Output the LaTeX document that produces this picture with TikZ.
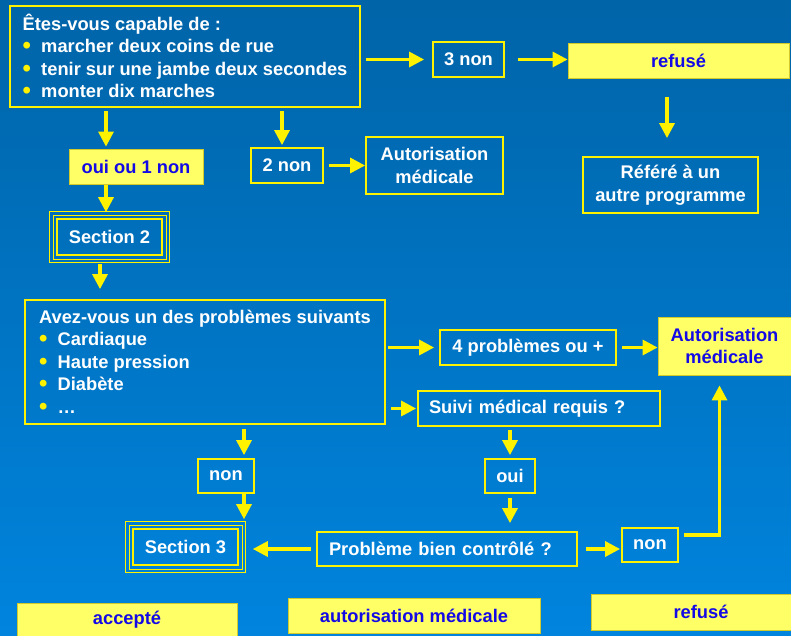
\documentclass[tikz,border=0pt]{standalone}
\usepackage{fontspec}
\setmainfont{Liberation Sans}
\usetikzlibrary{arrows.meta}
\definecolor{bg_top}{RGB}{0,100,168}
\definecolor{bg_mid}{RGB}{0,110,185}
\definecolor{bg_bottom}{RGB}{0,132,222}
\definecolor{box_yellow}{RGB}{255,255,102}
\definecolor{text_blue}{RGB}{20,10,230}
\newcommand{\yb}{\makebox[18.6pt][l]{\raisebox{-1pt}{\scalebox{1.3}{\textcolor{yellow}{\textbullet}}}}}

\begin{document}
\begin{tikzpicture}[
    x=1pt, y=-1pt,
    every node/.style={font=\bfseries\fontsize{18.3}{22.5}\selectfont, inner sep=0pt},
    box/.style={draw=yellow, line width=1.8pt, text=white, align=center},
    hibox/.style={draw=yellow!80!black, line width=0.8pt, fill=box_yellow,
                  text=text_blue, align=center},
    secbox/.style={draw=yellow, line width=1.6pt, text=white,
                   minimum width=105pt, minimum height=36pt},
    secframe/.style={draw=yellow, line width=1pt},
    arr/.style={-{Triangle[width=15pt,length=15pt]}, line width=3.2pt, yellow},
]
\useasboundingbox (0,0) rectangle (791,635);
\shade[top color=bg_top, middle color=bg_mid, bottom color=bg_bottom] (0,0) rectangle (791,635);

% section 1
\node[box, minimum width=350pt, minimum height=101pt, align=left] (q1) at (185,56.5)
    {Êtes-vous capable de :\\ \yb marcher deux coins de rue\\
     \yb tenir sur une jambe deux secondes\\ \yb monter dix marches};
\node[box, minimum width=71pt, minimum height=35pt]   (non3)   at (468.5,59.5) {3 non};
\node[hibox, minimum width=221pt, minimum height=35pt] (refuse) at (678.5,60.5) {refusé};
\node[box, minimum width=175pt, minimum height=56pt]  (refere) at (670.5,185)  {Référé à un\\autre programme};
\node[box, minimum width=137pt, minimum height=57pt]  (auto1)  at (434.5,165.5) {Autorisation\\médicale};
\node[box, minimum width=72pt, minimum height=35pt]   (non2)   at (287,165.5)  {2 non};
\node[hibox, minimum width=134pt, minimum height=35pt] (ouinon) at (136,166.5) {oui ou 1 non};
\node[secbox] (sec2) at (109.5,237) {Section 2};

% section 2
\node[box, minimum width=360pt, minimum height=124pt, align=left] (q2) at (205,362)
    {Avez-vous un des problèmes suivants\\ \yb Cardiaque\\ \yb Haute pression\\
     \yb Diabète\\ \yb …};
\node[box, minimum width=176pt, minimum height=35pt]  (prob4) at (528,347.5) {4 problèmes ou +};
\node[hibox, minimum width=133pt, minimum height=58pt] (auto2) at (724.5,346) {Autorisation\\médicale};
\node[box, text width=220pt, inner xsep=11pt, minimum height=35pt, align=left] (suivi) at (539,408.5)
    {Suivi médical requis ?};
\node[box, minimum width=56pt, minimum height=34pt] (non)  at (226,476) {non};
\node[box, minimum width=50pt, minimum height=34pt] (oui)  at (510,476) {oui};
\node[secbox] (sec3) at (185.5,547) {Section 3};
\node[box, text width=236pt, inner xsep=12pt, minimum height=34pt, align=left] (prob) at (447,549)
    {Problème bien contrôlé ?};
\node[box, minimum width=56pt, minimum height=34pt] (nonr) at (650,545) {non};

% legend
\node[hibox, minimum width=220pt, minimum height=34pt] (leg_ok)   at (127,620) {accepté};
\node[hibox, minimum width=252pt, minimum height=35pt] (leg_auto) at (414,616) {autorisation médicale};
\node[hibox, minimum width=220pt, minimum height=36pt] (leg_no)   at (701,612) {refusé};

\foreach \n in {sec2, sec3}
  \foreach \d in {3.2, 6.4}
    \draw[secframe] ([shift={(-\d,-\d)}]\n.north west) rectangle ([shift={(\d,\d)}]\n.south east);

\draw[arr, shorten <=5pt, shorten >=8pt] ([yshift=-3pt]q1.east) -- (non3.west);
\draw[arr, shorten <=13pt] (non3.east) -- (non3.east -| refuse.west);
\draw[arr, shorten <=19pt, shorten >=18pt] ([xshift=-11.5pt]refuse.south) -- ([xshift=-3.5pt]refere.north);
\draw[arr, shorten <=3pt, shorten >=2pt] ([xshift=-79pt]q1.south) -- ([xshift=-30pt]ouinon.north);
\draw[arr, shorten <=3pt, shorten >=2pt] ([xshift=97pt]q1.south) -- ([xshift=-5pt]non2.north);
\draw[arr, shorten <=5pt] (non2.east) -- (auto1.west);
\draw[arr, shorten <=1pt, shorten >=6pt] ([xshift=-30pt]ouinon.south) -- ([xshift=-3.5pt]sec2.north);
\draw[arr, shorten <=8pt, shorten >=10pt] ([xshift=-9.5pt]sec2.south) -- ([xshift=-105pt]q2.north);
\draw[arr, shorten <=2pt, shorten >=5pt] (q2.east |- prob4.west) -- (prob4.west);
\draw[arr, shorten <=5pt] (prob4.east) -- (prob4.east -| auto2.west);
\draw[arr, shorten <=5pt, shorten >=1pt] (q2.east |- suivi.west) -- (suivi.west);
\draw[arr, shorten <=4pt, shorten >=3pt] ([xshift=39pt]q2.south) -- ([xshift=18pt]non.north);
\draw[arr, shorten >=9pt] ([xshift=18pt]non.south) -- ([xshift=58.5pt]sec3.north);
\draw[arr, shorten <=3pt, shorten >=3pt] (oui.north |- suivi.south) -- (oui.north);
\draw[arr, shorten <=4pt, shorten >=8pt] (oui.south) -- (oui.south |- prob.north);
\draw[arr, shorten <=5pt, shorten >=14pt] (prob.west) -- (prob.west -| sec3.east);
\draw[arr, shorten <=8pt, shorten >=1pt] (prob.east) -- (prob.east -| nonr.west);
\draw[arr, shorten <=5pt, shorten >=10pt] ([yshift=10pt]nonr.east) -| ([xshift=-5pt]auto2.south);
\end{tikzpicture}
\end{document}
